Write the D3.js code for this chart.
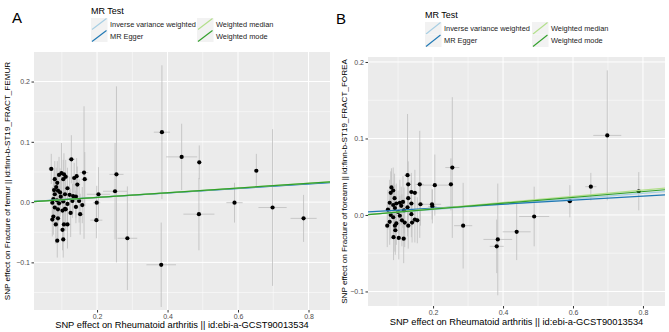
<!DOCTYPE html>
<html>
<head>
<meta charset="utf-8">
<script src="https://cdn.jsdelivr.net/npm/d3@7"></script>
<style>
  body { margin: 0; background: #fff; }
  svg { font-family: "Liberation Sans", Arial, sans-serif; }
</style>
</head>
<body>
<svg id="chart" width="669" height="332"></svg>
<script>
// ----- Data -----
const methods = ["Inverse variance weighted", "MR Egger", "Weighted median", "Weighted mode"];
const methodColors = ["#a6cee3", "#1f78b4", "#b2df8a", "#33a02c"];

// panel A: fracture of femur
const femurX   = [0.070,0.127,0.092,0.099,0.106,0.111,0.104,0.080,0.087,0.135,0.142,0.163,0.165,0.144,0.084,0.089,0.095,0.080,0.116,0.109,0.122,0.132,0.140,0.076,0.086,0.073,0.092,0.104,0.116,0.130,0.149,0.158,0.080,0.089,0.102,0.111,0.140,0.125,0.152,0.076,0.073,0.089,0.083,0.106,0.116,0.102,0.104,0.087,0.109,0.097,0.078,
                  0.204,0.199,0.198,0.251,0.255,0.286,0.384,0.382,0.440,0.490,0.489,0.590,0.652,0.698,0.786];
const femurY   = [0.055,0.071,0.045,0.048,0.046,0.042,0.038,0.038,0.032,0.040,0.043,0.049,0.038,0.029,0.025,0.019,0.016,0.013,0.023,0.013,0.012,0.010,0.009,0.005,0.003,-0.001,-0.002,0.001,-0.003,0.002,0.002,-0.005,-0.009,-0.012,-0.014,-0.012,-0.008,-0.018,-0.020,-0.024,-0.029,-0.027,-0.037,-0.037,-0.037,-0.046,-0.062,-0.064,-0.011,0.009,0.020,
                  0.013,-0.001,-0.030,0.018,0.046,-0.060,0.116,-0.104,0.075,0.066,-0.020,-0.001,0.052,-0.009,-0.027];
const femurSeX = [0.008,0.010,0.007,0.006,0.008,0.009,0.007,0.006,0.007,0.010,0.008,0.012,0.010,0.008,0.006,0.007,0.006,0.005,0.008,0.007,0.009,0.008,0.010,0.006,0.007,0.006,0.008,0.007,0.009,0.008,0.010,0.009,0.006,0.006,0.008,0.007,0.009,0.008,0.010,0.006,0.005,0.007,0.007,0.008,0.009,0.008,0.007,0.006,0.007,0.006,0.006,
                  0.033,0.010,0.017,0.034,0.020,0.028,0.023,0.042,0.044,0.005,0.044,0.023,0.005,0.040,0.037];
const femurSeY = [0.025,0.040,0.030,0.050,0.035,0.028,0.032,0.030,0.036,0.025,0.030,0.110,0.045,0.030,0.032,0.028,0.040,0.030,0.034,0.025,0.030,0.027,0.035,0.030,0.038,0.026,0.030,0.045,0.032,0.028,0.036,0.030,0.032,0.028,0.030,0.036,0.027,0.040,0.034,0.030,0.028,0.036,0.032,0.030,0.040,0.034,0.030,0.028,0.030,0.028,0.034,
                  0.045,0.028,0.030,0.080,0.146,0.086,0.111,0.070,0.055,0.028,0.060,0.033,0.028,0.130,0.039];
const femurSlope     = [0.038, 0.037, 0.039, 0.039];
const femurIntercept = [0, 0.0005, 0, 0];

// panel B: fracture of forearm
const forearmX   = [0.127,0.129,0.162,0.205,0.251,0.255,0.081,0.086,0.079,0.138,0.148,0.090,0.129,0.076,0.095,0.105,0.114,0.086,0.109,0.138,0.164,0.197,0.198,0.071,0.091,0.127,0.100,0.117,0.079,0.105,0.138,0.086,0.111,0.148,0.076,0.095,0.119,0.140,0.155,0.069,0.091,0.129,0.092,0.087,0.102,0.116,
                    0.286,0.385,0.382,0.439,0.489,0.591,0.651,0.698,0.788];
const forearmY   = [0.052,0.040,0.040,0.039,0.040,0.062,0.036,0.032,0.029,0.030,0.029,0.022,0.022,0.016,0.015,0.016,0.017,0.013,0.012,0.015,0.014,0.014,0.011,0.007,0.009,0.010,0.004,0.006,0.000,-0.001,0.001,-0.003,-0.007,-0.006,-0.009,-0.011,-0.010,-0.010,-0.007,-0.014,-0.014,-0.014,-0.020,-0.029,-0.030,-0.031,
                    -0.014,-0.032,-0.041,-0.022,-0.002,0.018,0.037,0.104,0.031];
const forearmSeX = [0.010,0.008,0.012,0.043,0.005,0.020,0.006,0.007,0.006,0.009,0.010,0.007,0.008,0.006,0.007,0.008,0.008,0.006,0.007,0.009,0.010,0.026,0.012,0.006,0.007,0.008,0.007,0.008,0.006,0.007,0.009,0.006,0.008,0.010,0.006,0.007,0.008,0.009,0.010,0.005,0.007,0.009,0.007,0.006,0.007,0.008,
                    0.026,0.041,0.020,0.040,0.043,0.008,0.016,0.040,0.005];
const forearmSeY = [0.080,0.030,0.070,0.040,0.034,0.092,0.025,0.030,0.028,0.025,0.030,0.032,0.028,0.030,0.026,0.030,0.034,0.028,0.025,0.030,0.028,0.020,0.022,0.026,0.030,0.032,0.028,0.030,0.032,0.026,0.030,0.028,0.034,0.030,0.030,0.028,0.032,0.026,0.030,0.028,0.034,0.030,0.032,0.030,0.028,0.032,
                    0.056,0.073,0.035,0.037,0.039,0.021,0.018,0.085,0.025];
const forearmSlope     = [0.0353, 0.026, 0.0406, 0.0382];
const forearmIntercept = [0, 0.0037, 0, 0];

const xTicks = [0.2, 0.4, 0.6, 0.8];
const femurYTicks = [-0.1, 0.0, 0.1, 0.2];
const forearmYTicks = [-0.1, 0.0, 0.1, 0.2];

const xTitle = "SNP effect on Rheumatoid arthritis || id:ebi-a-GCST90013534";

// ----- Panels -----
const panels = [
  {
    tag: "A", tagPos: [12, 23],
    rect: { left: 34, top: 52, right: 330, bottom: 310 },
    xDomain: [0.021, 0.861], yDomain: [-0.179, 0.249],
    yTicks: femurYTicks,
    xs: femurX, ys: femurY, sx: femurSeX, sy: femurSeY,
    slope: femurSlope, intercept: femurIntercept,
    yTitle: "SNP effect on Fracture of femur || id:finn-b-ST19_FRACT_FEMUR",
    yTitleX: 7, xTitleY: 328, xLabelY: 318,
    legend: { x: 91, titleY: 14, keyY: 18, keyH: 12, col2: 197 }
  },
  {
    tag: "B", tagPos: [336, 24],
    rect: { left: 368, top: 57, right: 665, bottom: 306 },
    xDomain: [0.014, 0.863], yDomain: [-0.119, 0.2065],
    yTicks: forearmYTicks,
    xs: forearmX, ys: forearmY, sx: forearmSeX, sy: forearmSeY,
    slope: forearmSlope, intercept: forearmIntercept,
    yTitle: "SNP effect on Fracture of forearm || id:finn-b-ST19_FRACT_FOREA",
    yTitleX: 344, xTitleY: 325, xLabelY: 313,
    legend: { x: 425, titleY: 18, keyY: 22, keyH: 12.5, col2: 532 }
  }
];

const svg = d3.select("#chart");
const fmt = d => d === 0 ? "0.0" : d3.format(".1f")(d).replace("-", "\u2212");

function drawPanel(p) {
  const r = p.rect;
  const x = d3.scaleLinear().domain(p.xDomain).range([r.left, r.right]);
  const y = d3.scaleLinear().domain(p.yDomain).range([r.bottom, r.top]);
  const g = svg.append("g");

  // background + grid
  g.append("rect")
    .attr("x", r.left).attr("y", r.top)
    .attr("width", r.right - r.left).attr("height", r.bottom - r.top)
    .attr("fill", "#ebebeb");

  const xMinor = d3.range(0.1, 0.9, 0.2).filter(v => v > p.xDomain[0] && v < p.xDomain[1]);
  const yMinor = d3.range(-0.15, 0.26, 0.1).filter(v => v > p.yDomain[0] && v < p.yDomain[1]);

  g.selectAll(".xminor").data(xMinor).join("line")
    .attr("x1", d => x(d)).attr("x2", d => x(d))
    .attr("y1", r.top).attr("y2", r.bottom)
    .attr("stroke", "#fff").attr("stroke-width", 0.5);
  g.selectAll(".yminor").data(yMinor).join("line")
    .attr("x1", r.left).attr("x2", r.right)
    .attr("y1", d => y(d)).attr("y2", d => y(d))
    .attr("stroke", "#fff").attr("stroke-width", 0.5);
  g.selectAll(".xmajor").data(xTicks).join("line")
    .attr("x1", d => x(d)).attr("x2", d => x(d))
    .attr("y1", r.top).attr("y2", r.bottom)
    .attr("stroke", "#fff").attr("stroke-width", 1);
  g.selectAll(".ymajor").data(p.yTicks).join("line")
    .attr("x1", r.left).attr("x2", r.right)
    .attr("y1", d => y(d)).attr("y2", d => y(d))
    .attr("stroke", "#fff").attr("stroke-width", 1);

  const pts = p.xs.map((v, i) => ({ x: v, y: p.ys[i], sx: p.sx[i], sy: p.sy[i] }));

  const clipId = "clip" + p.tag;
  svg.append("clipPath").attr("id", clipId).append("rect")
    .attr("x", r.left).attr("y", r.top)
    .attr("width", r.right - r.left).attr("height", r.bottom - r.top);
  const plot = g.append("g").attr("clip-path", `url(#${clipId})`);

  // error bars
  plot.selectAll(".ev").data(pts).join("line")
    .attr("x1", d => x(d.x)).attr("x2", d => x(d.x))
    .attr("y1", d => y(d.y - d.sy)).attr("y2", d => y(d.y + d.sy))
    .attr("stroke", "#bebebe").attr("stroke-width", 0.8);
  plot.selectAll(".eh").data(pts).join("line")
    .attr("x1", d => x(d.x - d.sx)).attr("x2", d => x(d.x + d.sx))
    .attr("y1", d => y(d.y)).attr("y2", d => y(d.y))
    .attr("stroke", "#bebebe").attr("stroke-width", 0.8);

  // points
  plot.selectAll(".pt").data(pts).join("circle")
    .attr("cx", d => x(d.x)).attr("cy", d => y(d.y))
    .attr("r", 2.1).attr("fill", "#000");

  // regression lines
  methods.forEach((m, i) => {
    const line = d3.line().x(d => x(d)).y(d => y(p.intercept[i] + p.slope[i] * d));
    plot.append("path")
      .datum(p.xDomain)
      .attr("d", line)
      .attr("fill", "none")
      .attr("stroke", methodColors[i])
      .attr("stroke-width", 1.2);
  });

  // axes
  const xAxis = g.append("g")
    .attr("transform", `translate(0,${r.bottom})`)
    .call(d3.axisBottom(x).tickValues(xTicks).tickFormat(fmt).tickSize(2.5).tickPadding(1.5));
  const yAxis = g.append("g")
    .attr("transform", `translate(${r.left},0)`)
    .call(d3.axisLeft(y).tickValues(p.yTicks).tickFormat(fmt).tickSize(2.5).tickPadding(1.5));
  [xAxis, yAxis].forEach(a => {
    a.select(".domain").remove();
    a.selectAll(".tick line").attr("stroke", "#333");
    a.selectAll(".tick text").attr("fill", "#4d4d4d").style("font-size", "7px")
      .style("font-family", "'Liberation Sans', Arial, sans-serif");
  });

  // titles
  g.append("text")
    .attr("x", (r.left + r.right) / 2).attr("y", p.xTitleY)
    .attr("text-anchor", "middle")
    .style("font-size", "9.3px")
    .text(xTitle);
  g.append("text")
    .attr("transform", `translate(${p.yTitleX},${(r.top + r.bottom) / 2}) rotate(-90)`)
    .attr("text-anchor", "middle")
    .attr("dominant-baseline", "central")
    .style("font-size", "8.1px")
    .text(p.yTitle);
  g.append("text")
    .attr("x", p.tagPos[0]).attr("y", p.tagPos[1])
    .style("font-size", "15px")
    .text(p.tag);

  // legend
  const L = p.legend;
  g.append("text")
    .attr("x", L.x).attr("y", L.titleY)
    .style("font-size", "9px")
    .text("MR Test");
  methods.forEach((m, i) => {
    const col = Math.floor(i / 2), row = i % 2;
    const kx = col === 0 ? L.x : L.col2;
    const ky = L.keyY + row * L.keyH;
    const key = g.append("g");
    key.append("rect")
      .attr("x", kx).attr("y", ky)
      .attr("width", 16.5).attr("height", L.keyH)
      .attr("fill", "#f2f2f2");
    key.append("line")
      .attr("x1", kx + 1).attr("y1", ky + L.keyH - 0.5)
      .attr("x2", kx + 15.5).attr("y2", ky + 0.5)
      .attr("stroke", methodColors[i]).attr("stroke-width", 1.1);
    key.append("text")
      .attr("x", kx + 19).attr("y", ky + L.keyH / 2)
      .attr("dominant-baseline", "central")
      .style("font-size", "7.4px")
      .attr("fill", "#1a1a1a")
      .text(m);
  });
}

panels.forEach(drawPanel);
</script>
</body>
</html>
